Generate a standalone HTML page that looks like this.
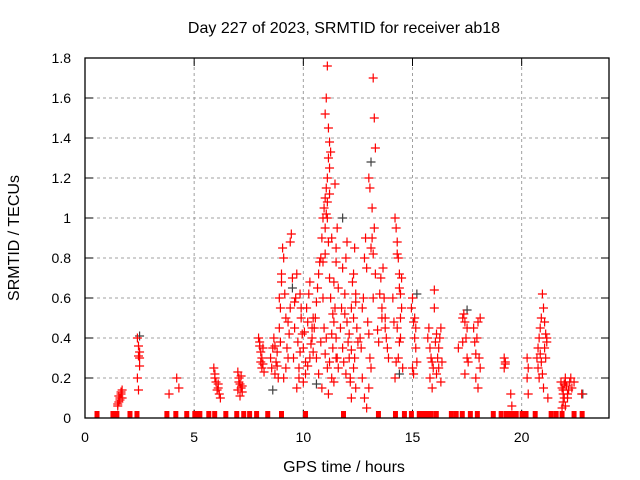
<!DOCTYPE html>
<html><head><meta charset="utf-8"><style>
html,body{margin:0;padding:0;background:#fff;}
svg{display:block;font-family:"Liberation Sans",sans-serif;}
</style></head><body>
<svg id="chart" width="640" height="480" viewBox="0 0 640 480" xmlns="http://www.w3.org/2000/svg">
<rect width="640" height="480" fill="#fff"/>
<text x="344" y="33" font-size="16" text-anchor="middle" fill="#000">Day 227 of 2023, SRMTID for receiver ab18</text>
<text transform="translate(19,238) rotate(-90)" font-size="16" text-anchor="middle" fill="#000">SRMTID / TECUs</text>
<text x="344" y="472" font-size="16" text-anchor="middle" fill="#000">GPS time / hours</text>
<g id="grid"></g>
<g id="axes"></g>
<g id="marks"></g>
<rect x="85" y="58" width="524" height="360" fill="none" stroke="#000" stroke-width="1.3"/>
</svg>
<script>
const xTicks = [0,5,10,15,20];
const yTicks = [0,0.2,0.4,0.6,0.8,1,1.2,1.4,1.6,1.8];
const yTickLabels = ["0","0.2","0.4","0.6","0.8","1","1.2","1.4","1.6","1.8"];
const hours = [
1.5,1.55,1.6,1.65,1.7,1.55,1.6,1.65,1.5,1.7,
2.4,2.45,2.5,2.45,2.5,2.4,2.45,2.5,4.2,4.3,
3.85,5.9,5.95,6.0,6.1,6.15,6.2,6.05,5.95,6.1,
7.0,7.05,7.1,7.15,7.2,7.1,7.05,7.15,7.2,7.0,
7.95,8.0,8.05,8.1,8.15,8.2,8.0,8.05,8.1,8.15,
8.5,8.55,8.6,8.65,8.7,8.75,8.8,8.85,8.9,8.95,
8.9,8.95,9.0,9.05,9.1,9.15,9.2,9.25,9.3,9.35,
9.4,9.45,9.5,9.4,9.3,9.2,9.1,9.0,8.8,8.7,
9.55,9.6,9.65,9.7,9.75,9.8,9.85,9.9,9.95,10.0,
10.0,10.05,10.1,10.15,10.2,10.25,10.3,10.35,10.4,10.45,
9.7,9.8,9.9,10.1,10.2,10.3,10.4,10.45,9.6,9.85,
10.5,10.55,10.6,10.65,10.7,10.75,10.8,10.85,10.9,10.95,
11.0,11.05,11.1,11.15,11.2,11.0,11.05,11.1,11.15,11.2,
11.0,11.05,11.1,11.15,11.2,11.25,11.3,11.35,11.4,11.45,
10.6,10.7,10.8,10.9,11.0,11.1,11.2,11.3,11.4,11.5,
10.9,11.0,11.1,11.2,11.3,11.4,11.5,10.95,11.05,11.25,
11.45,11.5,11.55,11.6,11.5,10.85,11.15,11.35,11.55,11.6,
11.7,11.75,11.8,11.85,11.9,11.95,12.0,12.05,12.1,12.15,
12.2,12.25,12.3,12.35,12.4,12.45,12.5,12.2,12.3,12.4,
11.8,11.9,12.0,12.1,12.2,12.3,12.4,11.95,12.15,12.35,
12.6,12.65,12.7,12.75,12.8,12.85,12.9,12.95,13.0,13.05,
13.0,13.05,13.1,13.15,13.2,13.25,13.3,13.15,13.2,13.25,
12.7,12.8,12.9,13.0,13.1,13.2,13.3,13.4,13.45,13.5,
13.55,13.6,13.65,13.7,13.75,13.8,13.85,13.9,13.6,13.75,
14.2,14.25,14.3,14.35,14.4,14.45,14.5,14.3,14.4,14.25,
14.1,14.15,14.2,14.35,14.45,14.5,14.55,14.3,14.4,14.45,
14.95,15.0,15.05,15.1,15.15,15.2,15.0,15.05,15.1,15.15,
15.7,15.75,15.8,15.85,15.9,15.95,16.0,16.05,16.1,16.15,
16.2,16.25,16.3,16.35,15.8,15.9,16.0,16.1,16.2,16.3,
17.1,17.3,17.35,17.4,17.45,17.5,17.55,17.4,17.5,17.3,
17.8,17.85,17.9,17.95,18.0,18.05,18.1,17.9,18.0,18.1,
19.2,19.25,19.2,19.25,19.5,19.55,20.25,20.3,20.25,20.3,
20.7,20.75,20.8,20.85,20.9,20.95,21.0,21.05,21.1,21.15,
20.75,20.8,20.85,20.9,20.95,21.0,21.05,21.1,21.15,21.2,
21.8,21.85,21.9,21.95,22.0,22.05,22.1,22.15,22.2,22.25,
21.85,21.9,21.95,22.0,22.3,22.4,22.75,21.9,22.0,22.1
];
const tecu = [
.06,.08,.1,.12,.14,.11,.09,.13,.07,.1,
.4,.36,.33,.31,.26,.2,.14,.3,.2,.15,
.12,.25,.22,.18,.15,.12,.1,.14,.2,.17,
.23,.2,.17,.15,.13,.11,.18,.21,.16,.14,
.4,.36,.33,.3,.27,.23,.38,.28,.25,.35,
.3,.25,.35,.4,.22,.28,.33,.2,.45,.38,
.6,.55,.72,.85,.8,.62,.5,.35,.3,.42,
.88,.92,.7,.55,.48,.25,.2,.68,.26,.36,
.3,.45,.6,.72,.38,.25,.33,.5,.42,.18,
.35,.43,.28,.55,.48,.62,.3,.37,.45,.5,
.15,.2,.55,.22,.26,.68,.4,.33,.58,.62,
.45,.5,.58,.65,.72,.78,.8,.9,1.0,1.05,
1.1,1.15,1.2,1.3,1.38,1.52,1.6,1.76,1.45,1.25,
.95,1.02,1.08,.88,.7,.6,.42,.35,.48,.55,
.3,.22,.38,.6,.32,.25,.28,.2,.18,.3,
.78,.82,1.0,1.12,.9,.68,.78,.45,.4,1.33,
1.17,.85,.95,.65,.4,.15,.12,.52,.3,.25,
.45,.55,.35,.28,.62,.8,.48,.38,.3,.2,
.55,.68,.72,.85,.62,.45,.38,.1,.25,.15,
.75,.52,.88,.42,.34,.5,.58,.22,.18,.3,
.4,.35,.55,.6,.8,.9,.75,.48,.42,.3,
1.2,1.15,.85,.9,1.7,1.5,1.35,1.05,.82,.95,
.2,.1,.05,.15,.25,.6,.72,.44,.38,.62,
.7,.5,.75,.6,.45,.4,.35,.3,.55,.5,
1.0,.95,.88,.8,.72,.62,.55,.45,.38,.28,
.6,.48,.2,.3,.5,.7,.25,.82,.65,.4,
.55,.6,.48,.4,.35,.28,.25,.22,.5,.45,
.4,.45,.35,.3,.28,.25,.64,.38,.42,.3,
.35,.4,.45,.28,.2,.15,.55,.22,.25,.18,
.35,.5,.52,.48,.4,.3,.28,.22,.45,.38,
.45,.38,.32,.4,.48,.3,.25,.2,.15,.5,
.3,.27,.25,.28,.12,.06,.3,.25,.2,.12,
.3,.35,.4,.45,.5,.62,.55,.48,.42,.38,
.25,.2,.32,.28,.22,.15,.35,.3,.4,.1,
.18,.15,.12,.17,.2,.16,.1,.14,.18,.2,
.05,.08,.1,.06,.15,.18,.12,.14,.18,.12
];
const blackHours = [2.5,9.5,11.8,13.1,10.6,14.4,22.8,8.6,15.2,17.5];
const blackTecu = [0.41,0.65,1.0,1.28,0.17,0.22,0.12,0.14,0.62,0.54];
const zeroHours = [0.55,1.28,1.37,1.46,2.06,2.38,3.75,4.16,4.66,5.03,5.17,5.26,5.67,5.94,6.45,6.95,7.27,7.54,7.86,8.37,9.0,10.1,11.84,13.44,14.22,14.63,14.95,15.31,15.5,15.68,15.86,16.09,16.78,17.0,17.28,17.65,17.97,18.7,19.06,19.3,19.43,19.6,19.75,20.02,20.2,20.62,21.35,21.58,21.85,22.4,22.77];

const NS = "http://www.w3.org/2000/svg";
const X0 = 85, X1 = 609, Y0 = 418, Y1 = 58;
const xMax = 24, yMax = 1.8;
function xs(h){ return X0 + h/xMax*(X1-X0); }
function ys(v){ return Y0 - v/yMax*(Y0-Y1); }
function mk(tag, attrs, parent){ const e=document.createElementNS(NS,tag); for(const k in attrs) e.setAttribute(k,attrs[k]); parent.appendChild(e); return e; }
const grid=document.getElementById('grid'), axes=document.getElementById('axes'), marks=document.getElementById('marks');

xTicks.forEach(t=>{
  const x=xs(t);
  if(t>0){ const g=mk('line',{x1:x,x2:x,y1:Y0,y2:Y1,stroke:'#a0a0a0','stroke-dasharray':'3,3','stroke-width':1},grid);
  
   }
  mk('line',{x1:x,x2:x,y1:Y0,y2:Y0-8,stroke:'#000'},axes);
  mk('line',{x1:x,x2:x,y1:Y1,y2:Y1+8,stroke:'#000'},axes);
  const tl=mk('text',{x:x,y:442,'font-size':14,'text-anchor':'middle',fill:'#000'},axes);
  tl.textContent=String(t);
  
  
});
yTicks.forEach((t,i)=>{
  const y=ys(t);
  if(t>0 && t<yMax){ const g=mk('line',{x1:X0,x2:X1,y1:y,y2:y,stroke:'#a0a0a0','stroke-dasharray':'3,3','stroke-width':1},grid);
  
   }
  mk('line',{x1:X0,x2:X0+8,y1:y,y2:y,stroke:'#000'},axes);
  mk('line',{x1:X1,x2:X1-8,y1:y,y2:y,stroke:'#000'},axes);
  const tl=mk('text',{x:71,y:y+5,'font-size':14,'text-anchor':'end',fill:'#000'},axes);
  tl.textContent=yTickLabels[i];
  
  
});
function plus(h,v,color){
  const x=xs(h), y=ys(v);
  const p=mk('path',{d:`M${x-4.5},${y}H${x+4.5}M${x},${y-4.5}V${y+4.5}`,stroke:color,'stroke-width':1.2,fill:'none'},marks);
  return p;
}
blackHours.forEach((h,i)=>{
  const p=plus(h,blackTecu[i],'#404040');
  
  
});
hours.forEach((h,i)=>{
  const p=plus(h,tecu[i],'#ff0000');
  
  
});
zeroHours.forEach(h=>{
  const r=mk('rect',{x:xs(h)-2.5,y:Y0-7,width:5,height:7,fill:'#ff0000'},marks);
  
  
});
</script>
</body></html>
